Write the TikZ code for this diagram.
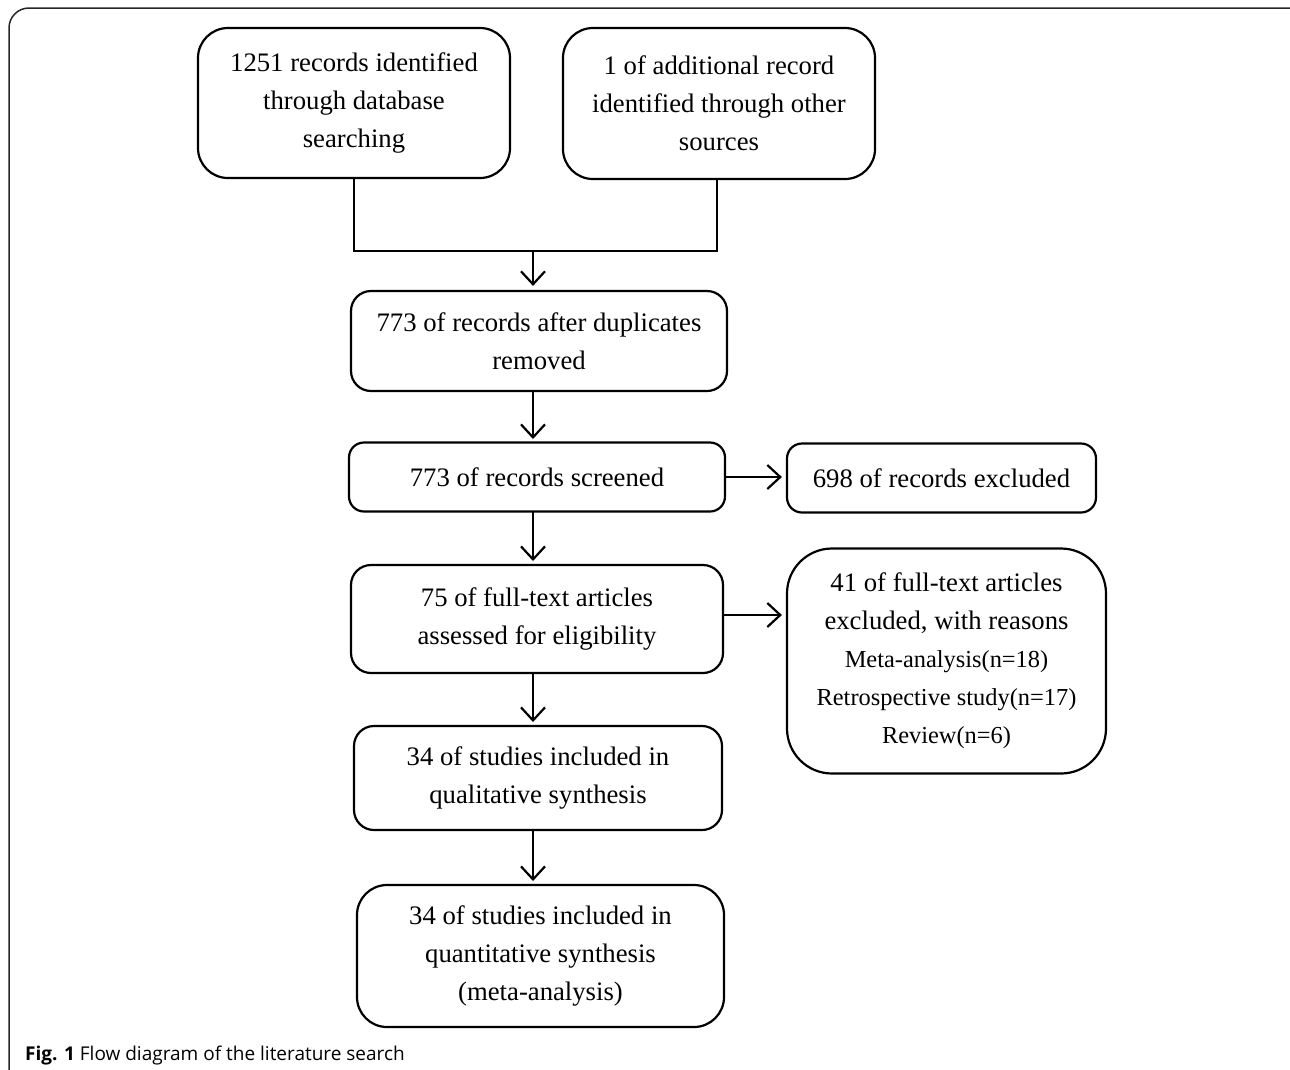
\documentclass[tikz,border=0pt]{standalone}
\usepackage{fontspec}
\setmainfont{Liberation Serif}
\newfontfamily\capfont{Open Sans}
\usetikzlibrary{arrows.meta}
\begin{document}
\begin{tikzpicture}[x=1pt,y=-1pt,
  box/.style={draw, line width=2.2pt, rectangle, inner sep=0pt, align=center,
    font=\fontsize{26.7}{38}\selectfont},
  arr/.style={line width=2.2pt, -{Straight Barb[length=13pt,width=24pt,line width=2.2pt]}, shorten >=4pt},
  ln/.style={line width=2.2pt}
]
\useasboundingbox (0,0) rectangle (1290,1069);
\draw[line width=1.5pt, rounded corners=20pt, black!85] (9,1090) -- (9,8) -- (1310,8);

\node[box, rounded corners=30pt, minimum width=312pt, minimum height=150pt] (A) at (354,103)
  {1251 records identified\\through database\\searching};
\node[box, rounded corners=30pt, minimum width=312pt, minimum height=151pt] (B) at (719,103.5)
  {1 of additional record\\identified through other\\sources};
\node[box, rounded corners=20pt, minimum width=376pt, minimum height=100pt] (C) at (539,341)
  {773 of records after duplicates\\removed};
\node[box, rounded corners=15pt, minimum width=376pt, minimum height=69pt] (D) at (537,477)
  {773 of records screened};
\node[box, rounded corners=15pt, minimum width=309pt, minimum height=69pt] (E) at (941.5,478)
  {698 of records excluded};
\node[box, rounded corners=20pt, minimum width=372pt, minimum height=108pt] (F) at (537,619)
  {75 of full-text articles\\assessed for eligibility};
\node[box, rounded corners=45pt, minimum width=319pt, minimum height=225pt] (G) at (946.5,661)
  {41 of full-text articles\\excluded, with reasons\\
   {\fontsize{24.4}{38}\selectfont Meta-analysis(n=18)}\\
   {\fontsize{24.4}{38}\selectfont Retrospective study(n=17)}\\
   {\fontsize{24.4}{38}\selectfont Review(n=6)}};
\node[box, rounded corners=20pt, minimum width=368pt, minimum height=104pt] (H) at (538,778)
  {34 of studies included in\\qualitative synthesis};
\node[box, rounded corners=30pt, minimum width=367pt, minimum height=142pt] (I) at (540.5,956)
  {34 of studies included in\\quantitative synthesis\\(meta-analysis)};

\coordinate (m) at (533,251);
\draw[ln] (A.south) -- (A.south |- m) -- (717,251) -- (717,179);
\draw[arr] (m) -- (m |- C.north);
\draw[arr] (533,391) -- (533,443);
\draw[arr] (533,512) -- (533,565);
\draw[arr] (533,673) -- (533,726);
\draw[arr] (533,830) -- (533,885);
\draw[arr] (D.east) -- (D.east -| E.west);
\draw[arr] (723,615) -- (G.west |- 0,615);

\node[anchor=base west, inner sep=0pt, font=\capfont\fontsize{19}{24}\selectfont] (cap) at (25,1060)
  {\textbf{Fig. 1} Flow diagram of the literature search};
\end{tikzpicture}
\end{document}
